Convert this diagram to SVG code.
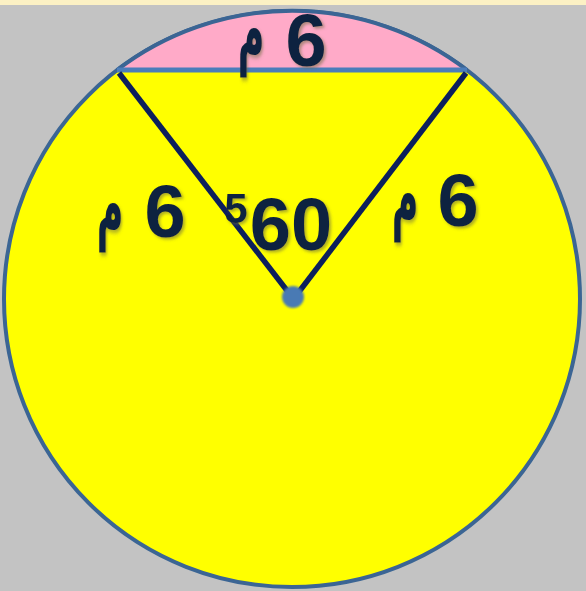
<svg xmlns="http://www.w3.org/2000/svg" width="586" height="591" viewBox="0 0 586 591">
<defs>
<style>
.num{font-family:"Liberation Sans",Arial,sans-serif;font-weight:bold;fill:#10233f;text-anchor:middle;filter:url(#sh)}
.ar{font-family:"DejaVu Sans",sans-serif;font-weight:bold;fill:#10233f;text-anchor:middle;filter:url(#sh)}
.rad{stroke:#0c1f5c;stroke-width:5.5;fill:none}
</style>
<filter id="sh" x="-20%" y="-20%" width="150%" height="150%">
<feDropShadow dx="2" dy="2" stdDeviation="1.5" flood-color="#6a6a40" flood-opacity="0.55"/>
</filter>
<filter id="blur" x="-50%" y="-50%" width="200%" height="200%">
<feGaussianBlur stdDeviation="1.2"/>
</filter>
</defs>
<rect width="586" height="591" fill="#c3c3c3"/>
<rect width="586" height="5" fill="#fcf1c4"/>
<g id="circle">
<circle cx="292" cy="299" r="288" fill="#ffff00" stroke="#3b6594" stroke-width="4"/>
</g>
<g id="segment">
<path d="M117,70 A288,288 0 0 1 467,70 Z" fill="#ffaac8"/>
<path d="M117,70 A288,288 0 0 1 467,70" fill="none" stroke="#3b6594" stroke-width="4"/>
</g>
<g id="connectors">
<line x1="117" y1="70" x2="467" y2="70" stroke="#4b7dba" stroke-width="5"/>
<line class="rad" x1="119" y1="73" x2="292" y2="297"/>
<line class="rad" x1="466" y1="73" x2="295" y2="297"/>
</g>
<g id="center">
<circle cx="293" cy="297" r="11" fill="#4a7ab4" filter="url(#blur)"/>
</g>
<g id="label-top">
<text class="num" x="306" y="66" font-size="74">6</text>
<text class="ar" transform="translate(251,58) scale(0.65,1.45)" x="0" y="0" font-size="56">م</text>
</g>
<g id="label-left">
<text class="num" x="165" y="237" font-size="74">6</text>
<text class="ar" transform="translate(110,233) scale(0.65,1.45)" x="0" y="0" font-size="56">م</text>
</g>
<g id="label-right">
<text class="num" x="458" y="226" font-size="74">6</text>
<text class="ar" transform="translate(405,223) scale(0.65,1.45)" x="0" y="0" font-size="56">م</text>
</g>
<g id="label-angle">
<text class="num" x="236" y="223" font-size="42">5</text>
<text class="num" x="291" y="250" font-size="74">60</text>
</g>
</svg>
